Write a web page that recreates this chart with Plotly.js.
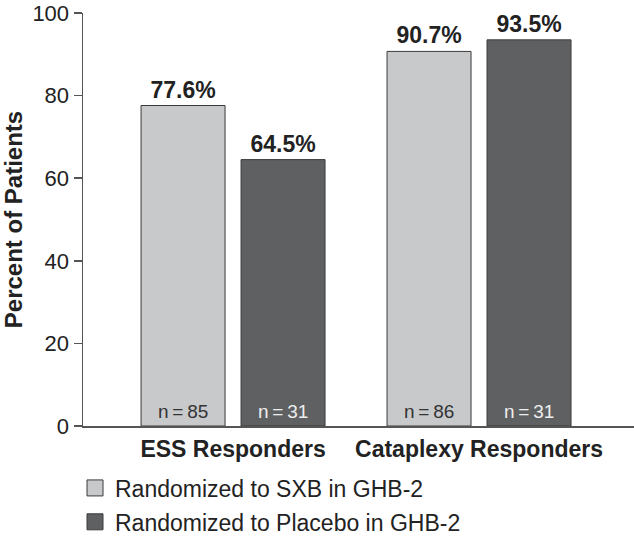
<!DOCTYPE html>
<html>
<head>
<meta charset="utf-8">
<script src="https://cdn.plot.ly/plotly-3.0.1.min.js"></script>
<style>
  html, body { margin: 0; padding: 0; background: #fff; }
  #grafico { width: 634px; height: 537px; }
</style>
</head>
<body>
<div id="grafico"></div>
<script>
// dados
let categorias = ["ESS Responders", "Cataplexy Responders"]
let sxb = [77.6, 90.7]          // Randomized to SXB in GHB-2
let placebo = [64.5, 93.5]      // Randomized to Placebo in GHB-2
let nSxb = [85, 86]
let nPlacebo = [31, 31]
let ticksY = [0, 20, 40, 60, 80, 100]

let bargap = 0.187
let desloc = (1 - bargap) / 4 // centro de cada barra dentro do grupo

let fonte = "Liberation Sans, Arial, sans-serif"
let corClara = "#c8c9cb"
let corEscura = "#5f6062"
let corBorda = "#3a3a3a"

let graf_1 = {
    x: categorias,
    y: sxb,
    type: 'bar',
    name: "Randomized to SXB in GHB-2",
    showlegend: false,
    text: sxb.map(v => v.toFixed(1) + "%"),
    textposition: 'outside',
    textfont: {family: fonte, size: 23, color: "#222", weight: "bold"},
    cliponaxis: false,
    marker: {color: corClara, line: {color: corBorda, width: 1}},
    hoverinfo: 'none'
}

let graf_2 = {
    x: categorias,
    y: placebo,
    type: 'bar',
    name: "Randomized to Placebo in GHB-2",
    showlegend: false,
    text: placebo.map(v => v.toFixed(1) + "%"),
    textposition: 'outside',
    textfont: {family: fonte, size: 23, color: "#222", weight: "bold"},
    cliponaxis: false,
    marker: {color: corEscura, line: {color: corBorda, width: 1}},
    hoverinfo: 'none'
}

// entradas da legenda (quadrados maiores)
let leg_1 = {
    x: [null], y: [null], type: 'scatter', mode: 'markers',
    name: "Randomized to SXB in GHB-2", legendgroup: "a",
    marker: {symbol: 'square', size: 16, color: corClara, line: {color: corBorda, width: 1}}
}
let leg_2 = {
    x: [null], y: [null], type: 'scatter', mode: 'markers',
    name: "Randomized to Placebo in GHB-2", legendgroup: "b",
    marker: {symbol: 'square', size: 16, color: corEscura, line: {color: corBorda, width: 1}}
}

// rotulos n = ... dentro das barras
let anotacoes = []
for (let i = 0; i < categorias.length; i++) {
    anotacoes.push({
        x: i - desloc, y: 0, xref: 'x', yref: 'y',
        text: "n\u2009=\u2009" + nSxb[i], showarrow: false,
        yanchor: 'bottom', yshift: 2,
        font: {family: fonte, size: 19, color: "#333"}
    })
    anotacoes.push({
        x: i + desloc, y: 0, xref: 'x', yref: 'y',
        text: "n\u2009=\u2009" + nPlacebo[i], showarrow: false,
        yanchor: 'bottom', yshift: 2,
        font: {family: fonte, size: 19, color: "#eeeeee"}
    })
}

let layout = {
    width: 634,
    height: 537,
    margin: {l: 83, r: 0, t: 13, b: 111, autoexpand: false},
    paper_bgcolor: "#fff",
    plot_bgcolor: "#fff",
    barmode: 'group',
    bargap: bargap,
    bargroupgap: 0.16,
    font: {family: fonte, color: "#222"},
    xaxis: {
        type: 'category',
        range: [-0.61, 1.63],
        showline: true,
        linecolor: "#555",
        linewidth: 1.5,
        ticks: '',
        tickfont: {family: fonte, size: 23, color: "#222", weight: "bold"},
        ticklabelstandoff: 2,
        showgrid: false,
        zeroline: false,
        fixedrange: true
    },
    yaxis: {
        range: [0, 100],
        tickvals: ticksY,
        ticktext: ticksY.map(String),
        ticklabeloverflow: 'allow',
        showline: true,
        linecolor: "#555",
        linewidth: 1.5,
        ticks: 'outside',
        ticklen: 8,
        tickwidth: 1.5,
        tickcolor: "#555",
        tickfont: {family: fonte, size: 22, color: "#222"},
        showgrid: false,
        zeroline: false,
        title: {text: "Percent of Patients", font: {family: fonte, size: 24, color: "#222", weight: "bold"}, standoff: 6},
        fixedrange: true
    },
    showlegend: true,
    legend: {
        orientation: 'v',
        x: -0.0145,
        xanchor: 'left',
        y: -0.098,
        yanchor: 'top',
        bgcolor: 'rgba(0,0,0,0)',
        font: {family: fonte, size: 23, color: "#222"},
        tracegroupgap: 1,
        itemwidth: 30
    },
    annotations: anotacoes
}

Plotly.newPlot(document.getElementById("grafico"), [graf_1, graf_2, leg_1, leg_2], layout, {displayModeBar: false, staticPlot: true})
</script>
</body>
</html>
